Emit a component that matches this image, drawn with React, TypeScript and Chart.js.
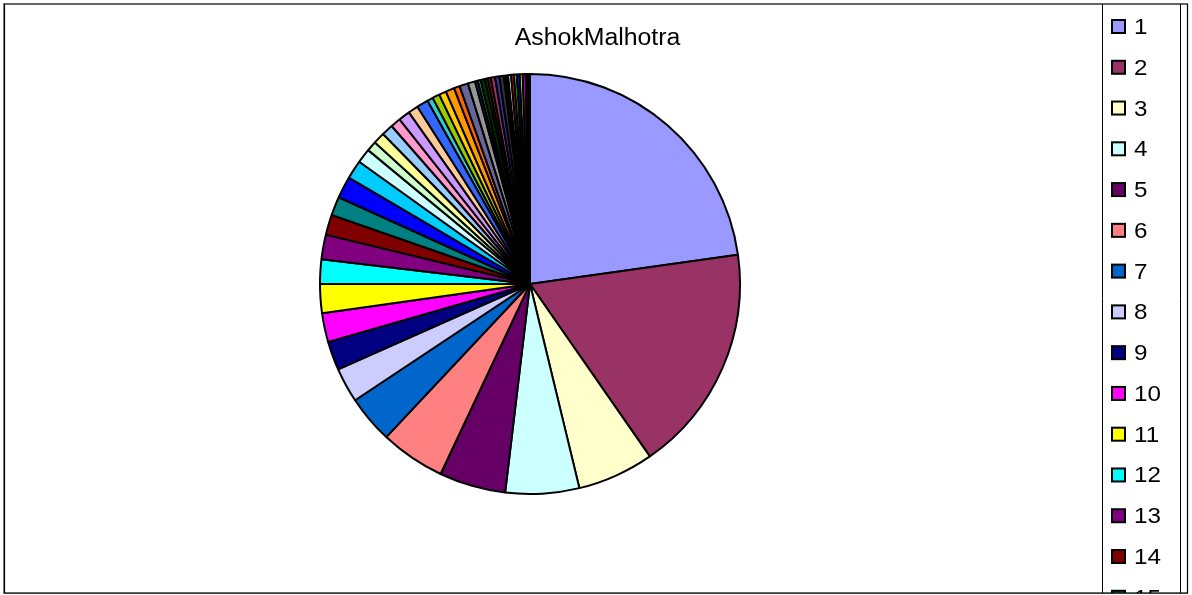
import React, { useEffect, useRef } from "react";
import { Chart, registerables } from "chart.js";

Chart.register(...registerables);

// Chart title
const chartTitle = "AshokMalhotra";

// Slice weights, in series order (clockwise from 12 o'clock)
const sliceValues = [
  205, 158, 53, 51, 46, 45, 33, 24, 20, 20, 20, 17, 17, 14, 13, 15,
  13, 10, 7, 8, 8, 7, 8, 7, 8, 4, 5, 5, 6, 4, 6, 5,
  2, 2, 3, 2, 2, 3, 3, 3, 3, 2, 2, 2, 2, 2, 2, 1,
  0.3, 0.3, 0.3, 0.3, 0.3, 0.5,
];

// Category names shown in the legend
const sliceLabels = sliceValues.map((_, i) => String(i + 1));

// Classic spreadsheet chart fill palette
const sliceColors = [
  "#9999FF", "#993366", "#FFFFCC", "#CCFFFF", "#660066", "#FF8080", "#0066CC", "#CCCCFF",
  "#000080", "#FF00FF", "#FFFF00", "#00FFFF", "#800080", "#800000", "#008080", "#0000FF",
  "#00CCFF", "#CCFFFF", "#CCFFCC", "#FFFF99", "#99CCFF", "#FF99CC", "#CC99FF", "#FFCC99",
  "#3366FF", "#33CCCC", "#99CC00", "#FFCC00", "#FF9900", "#FF6600", "#666699", "#969696",
  "#003366", "#339966", "#003300", "#333300", "#993300", "#993366", "#333399", "#333333",
  "#000000", "#FFFFFF", "#FF0000", "#00FF00", "#0000FF", "#FFFF00", "#FF00FF", "#00FFFF",
  "#800000", "#008000", "#000080", "#808000", "#800080", "#008080",
];

const W = 1192;
const H = 595;
const FONT = '"Liberation Sans", Arial, sans-serif';

// Draws the outer frame, the title and the boxed legend on the right
const framePlugin = {
  id: "frameAndLegend",
  afterDraw(chart: Chart) {
    const ctx = chart.ctx;
    ctx.save();

    // title
    ctx.fillStyle = "#000";
    ctx.font = `23px ${FONT}`;
    ctx.textAlign = "center";
    ctx.textBaseline = "alphabetic";
    ctx.save();
    ctx.translate(597.5, 45);
    ctx.scale(1.08, 1);
    ctx.fillText(chartTitle, 0, 0);
    ctx.restore();

    // legend entries, clipped to the frame
    ctx.save();
    ctx.beginPath();
    ctx.rect(4, 4, 1183, 589);
    ctx.clip();
    ctx.font = `22px ${FONT}`;
    ctx.textAlign = "left";
    const colors = chart.data.datasets[0].backgroundColor as string[];
    const labels = chart.data.labels as string[];
    for (let i = 0; i < labels.length; i++) {
      const y = 20 + i * 40.77;
      if (y > H) break;
      ctx.fillStyle = colors[i % colors.length];
      ctx.fillRect(1112, y, 13, 13);
      ctx.strokeStyle = "#000";
      ctx.lineWidth = 2;
      ctx.strokeRect(1112, y, 13, 13);
      ctx.fillStyle = "#000";
      ctx.save();
      ctx.translate(1134, y + 14);
      ctx.scale(1.1, 1);
      ctx.fillText(labels[i], 0, 0);
      ctx.restore();
    }
    ctx.restore();

    // legend box sides
    ctx.strokeStyle = "#000";
    ctx.lineWidth = 1;
    ctx.beginPath();
    ctx.moveTo(1102.5, 4);
    ctx.lineTo(1102.5, 593);
    ctx.moveTo(1180.5, 4);
    ctx.lineTo(1180.5, 593);
    ctx.stroke();

    // outer frame
    ctx.strokeStyle = "#8a8a8a";
    ctx.beginPath();
    ctx.moveTo(3.5, 3);
    ctx.lineTo(3.5, 594);
    ctx.moveTo(3, 593.5);
    ctx.lineTo(1188, 593.5);
    ctx.stroke();
    ctx.strokeStyle = "#000";
    ctx.lineWidth = 1.2;
    ctx.strokeRect(4.5, 4, 1183, 589);

    ctx.restore();
  },
};

export default function App() {
  const canvasRef = useRef<HTMLCanvasElement | null>(null);

  useEffect(() => {
    const canvas = canvasRef.current;
    if (!canvas) return;
    const chart = new Chart(canvas, {
      type: "pie",
      data: {
        labels: sliceLabels,
        datasets: [
          {
            data: sliceValues,
            backgroundColor: sliceValues.map((_, i) => sliceColors[i % sliceColors.length]),
            borderColor: "#000",
            borderWidth: 2,
            hoverOffset: 0,
          },
        ],
      },
      options: {
        responsive: false,
        animation: false,
        devicePixelRatio: 1,
        layout: {
          padding: { left: 319, right: W - 741, top: 73, bottom: H - 495 },
        },
        plugins: {
          legend: { display: false },
          title: { display: false },
          tooltip: { enabled: false },
        },
      },
      plugins: [framePlugin],
    });
    return () => chart.destroy();
  }, []);

  return (
    <div
      style={{
        position: "fixed",
        left: 0,
        top: 0,
        width: W,
        height: H,
        background: "#fff",
      }}
    >
      <canvas ref={canvasRef} width={W} height={H} style={{ width: W, height: H, display: "block" }} />
    </div>
  );
}
